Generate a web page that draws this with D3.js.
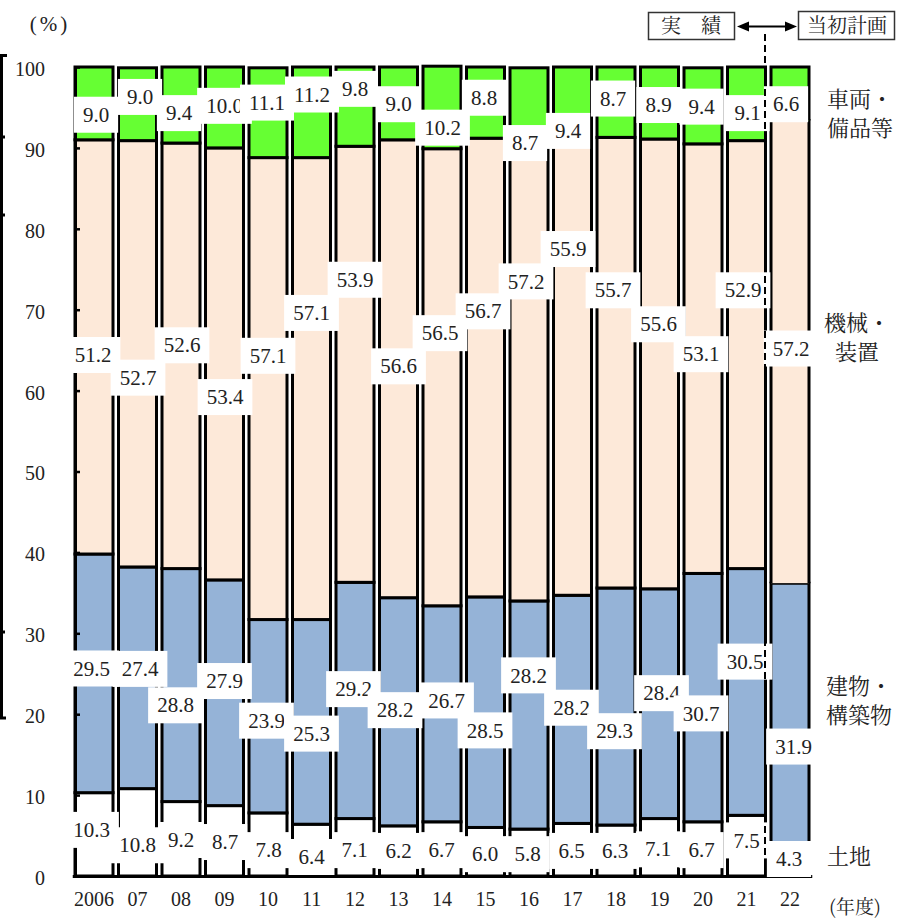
<!DOCTYPE html>
<html>
<head>
<meta charset="utf-8">
<script src="https://cdn.jsdelivr.net/npm/d3@7"></script>
<style>
  body { margin: 0; background: #fff; }
  svg { display: block; }
</style>
</head>
<body>
<svg id="chart" width="897" height="918"></svg>
<script>
// Fiscal years (2022 is the initial plan, the rest are actual results)
const years = ["2006", "07", "08", "09", "10", "11", "12", "13", "14", "15", "16", "17", "18", "19", "20", "21", "22"];
const plannedYear = "22";

// Composition shares (%), bottom to top
const land      = [10.3, 10.8, 9.2, 8.7, 7.8, 6.4, 7.1, 6.2, 6.7, 6.0, 5.8, 6.5, 6.3, 7.1, 6.7, 7.5, 4.3];
const buildings = [29.5, 27.4, 28.8, 27.9, 23.9, 25.3, 29.2, 28.2, 26.7, 28.5, 28.2, 28.2, 29.3, 28.4, 30.7, 30.5, 31.9];
const machinery = [51.2, 52.7, 52.6, 53.4, 57.1, 57.1, 53.9, 56.6, 56.5, 56.7, 57.2, 55.9, 55.7, 55.6, 53.1, 52.9, 57.2];
const vehicles  = [9.0, 9.0, 9.4, 10.0, 11.1, 11.2, 9.8, 9.0, 10.2, 8.8, 8.7, 9.4, 8.7, 8.9, 9.4, 9.1, 6.6];

const yTicks = [0, 10, 20, 30, 40, 50, 60, 70, 80, 90, 100];

// Where each value tag sits: height on the % axis, plus a small sideways nudge (px)
const landLabelAt      = [5.7, 3.8, 4.45, 4.2, 3.2, 2.35, 3.2, 3.1, 3.2, 2.7, 2.7, 3.1, 3.1, 3.3, 3.2, 4.4, 2.1];
const landLabelDx      = [-2.5, 0, 0, 0.5, 0.5, 0, -0.5, 0, -0.5, -0.5, -1.5, -1, -1, -1.5, -1.5, 0, -1];
const buildingsLabelAt = [25.65, 25.6, 21.1, 24.1, 19.2, 17.6, 23.1, 20.5, 21.7, 18.0, 24.8, 20.8, 17.9, 22.6, 20.1, 26.5, 16.0];
const buildingsLabelDx = [-2.5, 2.5, -5.5, 0, -1.5, 0, -1.5, -3.5, 4.5, -0.5, -0.5, -1, -1.5, 2, -2, -1.5, 3.5];
const machineryLabelAt = [64.4, 61.6, 65.6, 59.2, 64.3, 69.6, 73.7, 63.0, 67.1, 69.8, 73.5, 77.5, 72.4, 68.2, 64.5, 72.4, 65.2];
const machineryLabelDx = [-1, 0.5, 1, 0.5, 0, 0, 0, 0, -2, -2.5, -3, -4.5, -3, -1, -2, -3.5, 1];
const vehiclesLabelAt  = [94.1, 96.3, 94.3, 95.2, 95.6, 96.6, 97.3, 95.4, 92.5, 96.2, 90.6, 92.1, 96.1, 95.3, 95.1, 94.3, 95.4];
const vehiclesLabelDx  = [2, 2.5, -2, 0, -1, 0.5, 0, 0, 0.5, -1.5, -4, -4.5, -3, -1, -1.5, 1, -4];

const keys = ["land", "buildings", "machinery", "vehicles"];
const fills = { land: "#ffffff", buildings: "#95b3d7", machinery: "#fde9d9", vehicles: "#66ff33" };

const NUM_FONT = '"Liberation Serif", "DejaVu Serif", serif';
const JP_FONT = '"Noto Serif CJK JP", "Noto Sans CJK JP", serif';

const svg = d3.select("#chart");

const x = d3.scaleBand()
  .domain(years)
  .range([72.25, 811.75])
  .paddingInner(5.5 / 43.5)
  .paddingOuter(5.5 / 87);

const y = d3.scaleLinear().domain([0, 100]).range([876, 67]);

const rows = years.map((yr, i) => ({
  year: yr, land: land[i], buildings: buildings[i], machinery: machinery[i], vehicles: vehicles[i]
}));
const stacked = d3.stack().keys(keys)(rows);

// bracket line at the far left edge
svg.append("path")
  .attr("d", "M7,55.5H1.5V718H6M1.5,137H5M1.5,215H5M1.5,632H5")
  .attr("fill", "none").attr("stroke", "#000").attr("stroke-width", 3);

// stacked bars
const barG = svg.append("g");
stacked.forEach(series => {
  barG.append("g").selectAll("g").data(series).join("g").each(function (d) {
    const g = d3.select(this);
    const planned = d.data.year === plannedYear;
    const x0 = x(d.data.year), w = x.bandwidth();
    const top = y(d[1]), bot = y(d[0]);
    if (planned && series.key === "land") return;
    g.append("rect")
      .attr("x", x0).attr("y", top).attr("width", w).attr("height", bot - top)
      .attr("fill", fills[series.key])
      .attr("stroke", planned ? "none" : "#000")
      .attr("stroke-width", 3);
    if (planned) {
      g.append("path")
        .attr("d", `M${x0},${bot}V${top}H${x0 + w}V${bot}`)
        .attr("fill", "none").attr("stroke", "#000").attr("stroke-width", 3);
    }
  });
});

// axes
const yAxisG = svg.append("g")
  .attr("transform", "translate(75,0)")
  .call(d3.axisLeft(y).tickValues(yTicks).tickSizeInner(-5).tickSizeOuter(0).tickPadding(30));
yAxisG.select(".domain").attr("stroke", "#000").attr("stroke-width", 3);
yAxisG.selectAll(".tick line").attr("stroke", "#000").attr("stroke-width", 2.5);
yAxisG.selectAll(".tick text")
  .style("font-family", NUM_FONT).style("font-size", "20px")
  .attr("fill", "#222").attr("dy", "0.42em");

const xAxisG = svg.append("g")
  .attr("transform", "translate(0,876)")
  .call(d3.axisBottom(x).tickSize(0).tickSizeOuter(0).tickPadding(16));
xAxisG.select(".domain").attr("stroke", "#000").attr("stroke-width", 3);
xAxisG.selectAll(".tick text")
  .style("font-family", NUM_FONT).style("font-size", "20px")
  .attr("fill", "#222");

// value tags: white boxes with the share printed on them
const labelSets = [
  { values: land, at: landLabelAt, dx: landLabelDx },
  { values: buildings, at: buildingsLabelAt, dx: buildingsLabelDx },
  { values: machinery, at: machineryLabelAt, dx: machineryLabelDx },
  { values: vehicles, at: vehiclesLabelAt, dx: vehiclesLabelDx }
];
const tagG = svg.append("g");
labelSets.forEach(set => {
  set.values.forEach((v, i) => {
    const cx = x(years[i]) + x.bandwidth() / 2 + set.dx[i];
    const cy = y(set.at[i]);
    const g = tagG.append("g");
    const box = g.append("rect").attr("fill", "#fff");
    const t = g.append("text")
      .style("font-family", NUM_FONT).style("font-size", "21px")
      .attr("x", cx).attr("y", cy).attr("dy", "0.34em")
      .attr("text-anchor", "middle").attr("fill", "#222")
      .text(v.toFixed(1));
    const w = t.node().getComputedTextLength() + 18;
    box.attr("x", cx - w / 2).attr("y", cy - 18).attr("width", w).attr("height", 36);
  });
});

// unit labels
svg.append("text")
  .style("font-family", NUM_FONT).style("font-size", "21px").style("letter-spacing", "3px")
  .attr("x", 50).attr("y", 31).attr("text-anchor", "middle").attr("fill", "#222")
  .text("(%)");
svg.append("text")
  .style("font-family", JP_FONT).style("font-size", "19px")
  .attr("x", 829).attr("y", 914).attr("fill", "#222")
  .text("(年度)");

// category names on the right
const catLabels = [
  { lines: ["車両・", "備品等"], at: 99, anchor: "middle", x: 860 },
  { lines: ["機械・", "装置"], at: 323, anchor: "middle", x: 857 },
  { lines: ["建物・", "構築物"], at: 686, anchor: "middle", x: 859 },
  { lines: ["土地"], at: 856, anchor: "start", x: 827 }
];
const catG = svg.append("g");
catLabels.forEach(c => {
  c.lines.forEach((ln, k) => {
    catG.append("text")
      .style("font-family", JP_FONT).style("font-size", "22px")
      .attr("fill", "#222")
      .attr("x", c.x).attr("y", c.at + k * 29).attr("dy", "0.36em")
      .attr("text-anchor", c.anchor)
      .text(ln);
  });
});

// divider between actual results and the plan
svg.append("line")
  .attr("x1", 765).attr("x2", 765).attr("y1", 34).attr("y2", 876)
  .attr("stroke", "#000").attr("stroke-width", 2).attr("stroke-dasharray", "7,4");

// result / plan legend with double-headed arrow
const legG = svg.append("g");
legG.append("rect").attr("x", 648.5).attr("y", 12.5).attr("width", 86).attr("height", 27)
  .attr("fill", "#fff").attr("stroke", "#333").attr("stroke-width", 1.5);
legG.append("text").style("font-family", JP_FONT).style("font-size", "20px").attr("fill", "#222")
  .attr("x", 691).attr("y", 26).attr("dy", "0.36em").attr("text-anchor", "middle").text("実　績");
legG.append("rect").attr("x", 798.5).attr("y", 11.5).attr("width", 96).attr("height", 28)
  .attr("fill", "#fff").attr("stroke", "#333").attr("stroke-width", 1.5);
legG.append("text").style("font-family", JP_FONT).style("font-size", "20px").attr("fill", "#222")
  .attr("x", 847).attr("y", 26).attr("dy", "0.36em").attr("text-anchor", "middle").text("当初計画");
legG.append("line").attr("x1", 744).attr("x2", 790).attr("y1", 26.5).attr("y2", 26.5)
  .attr("stroke", "#000").attr("stroke-width", 2);
legG.append("path").attr("d", "M737,26.5L749,21.5L749,31.5Z").attr("fill", "#000");
legG.append("path").attr("d", "M797,26.5L785,21.5L785,31.5Z").attr("fill", "#000");
</script>
</body>
</html>
